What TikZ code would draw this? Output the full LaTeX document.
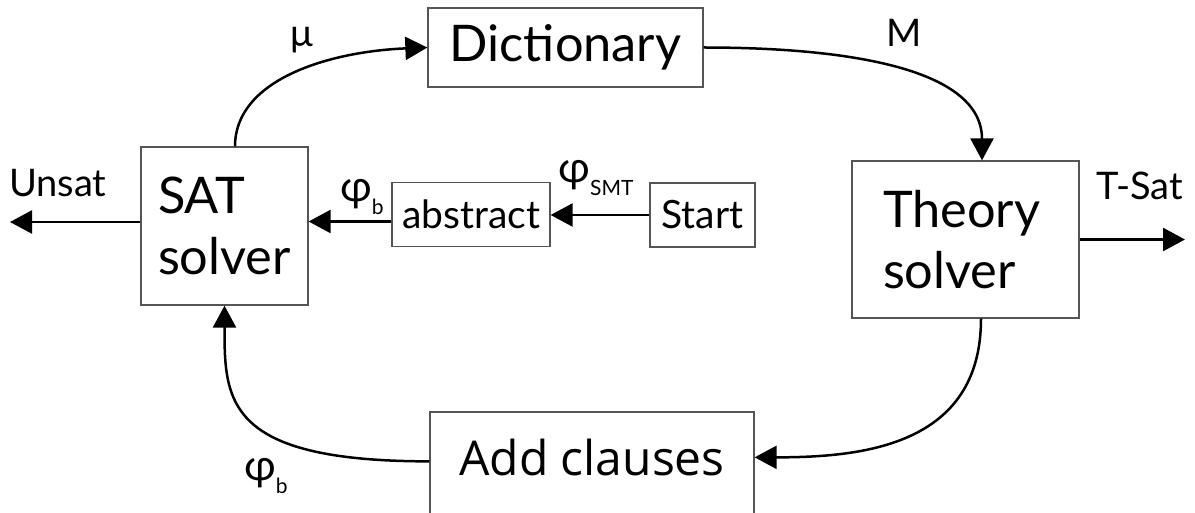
\documentclass[tikz,border=0pt]{standalone}
\usepackage{fontspec}
\setmainfont{Lato}
\newfontfamily\addfont{Open Sans}
\usetikzlibrary{arrows.meta,calc}
\definecolor{rand}{HTML}{555555}
\newcommand\tief[1]{\raisebox{-13pt}{\fontsize{21}{21}\selectfont #1}}
\tikzset{
  box/.style={draw=rand,line width=1.3pt,inner sep=0pt,align=left},
  arr/.style={-{Triangle[length=22pt,width=23pt]},black,line width=2.5pt},
  lab/.style={inner sep=0pt,font=\fontsize{38}{42}\selectfont},
  phi/.style={inner sep=0pt,font=\fontsize{43}{46}\selectfont},
  big/.style={font=\fontsize{50.5}{61}\selectfont},
  mid/.style={font=\fontsize{39}{44}\selectfont},
}

\begin{document}
\begin{tikzpicture}[x=1pt,y=-1pt]
  \useasboundingbox (0,0) rectangle (1195,513);
  \clip (0,0) rectangle (1195,513);
  % Kaesten
  \node[box,big,minimum width=275,minimum height=79] (dict) at (565.5,47.5) {Dictionary};
  \node[box,big,minimum width=167,minimum height=158] (sat) at (224.5,226) {SAT\\solver};
  \node[box,big,minimum width=227,minimum height=157,text width=165pt] (theory) at (965.5,239.5) {Theory\\solver};
  \node[box,mid,minimum width=158,minimum height=64] (abs) at (471,214.5) {abstract};
  \node[box,mid,minimum width=105,minimum height=64] (start) at (702.5,215) {Start};
  \node[box,font=\addfont\fontsize{48}{56}\selectfont,minimum width=324,
        text height=63pt,text depth=60pt,anchor=base] (add) at (592,475) {Add clauses};
  % Schleife
  \draw[arr] ($(sat.north)+(10.5,0)$) .. controls +(0,-67) and +(-98,4) .. (dict.west);
  \draw[arr] (dict.east) .. controls +(147,0) and +(0,-91) .. ($(theory.north)+(16.5,0)$);
  \draw[arr] ($(theory.south)+(15.5,0)$) .. controls +(0,127) and +(108,0) .. ($(add.north east)+(0,46)$);
  \draw[arr] ($(add.north west)+(0,50)$) .. controls +(-204,0) and +(0,95) .. (sat.south);
  % Ein- und Ausgaenge
  \coordinate (unsatend) at (10,222);
  \coordinate (tsatend) at (1185,239.5);
  \coordinate (absout) at ([yshift=-7pt]abs.west);
  \draw[arr] (sat.west |- unsatend) -- (unsatend);
  \draw[arr] (theory.east) -- (tsatend);
  \draw[arr] (start.west) -- (abs.east |- start.west);
  \draw[arr] (absout) -- (absout -| sat.east);
  % Beschriftungen
  \node[lab,anchor=base west] (unsat) at (9,197) {Unsat};
  \node[lab,anchor=base west] (tsat) at (1096,200) {T-Sat};
  \node[lab] (mu) at (302,40) {μ};
  \node[lab,anchor=base west] (m) at (886,47) {M};
  \node[phi] (phib) at (362,197) {φ\tief{b}};
  \node[phi] (phismt) at (596,178) {φ\tief{SMT}};
  \node[phi] (phiadd) at (266,476) {φ\tief{b}};
\end{tikzpicture}
\end{document}
